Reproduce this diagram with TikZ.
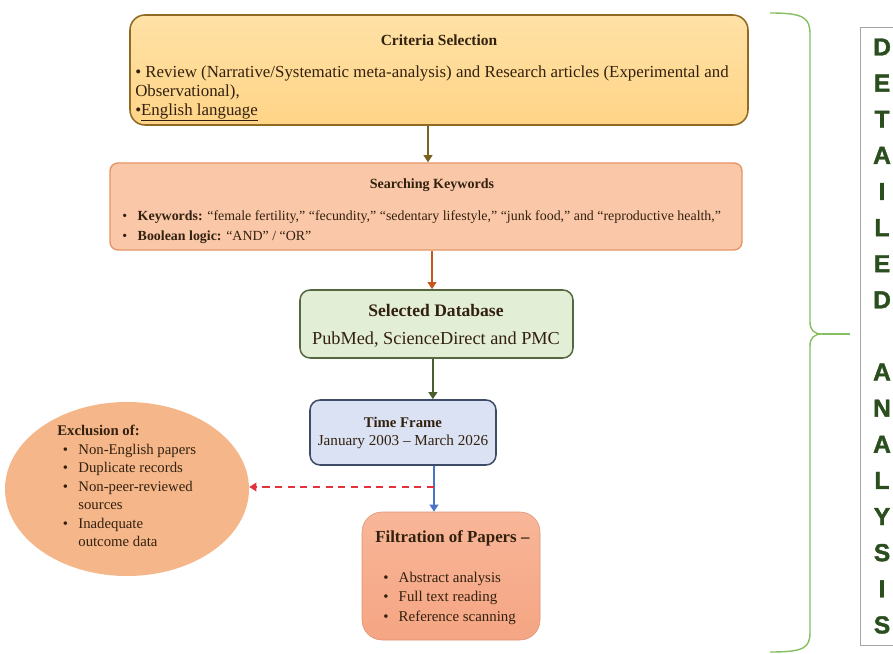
\documentclass[tikz,border=0pt]{standalone}
\usepackage{fontspec}
\setmainfont{Liberation Serif}
\newfontfamily\letterfont[FakeBold=1.6]{Liberation Sans}
\usetikzlibrary{positioning,calc,arrows.meta,shapes.geometric}

\definecolor{critfill}{HTML}{FFD487}
\definecolor{critlight}{HTML}{FFE2A6}
\definecolor{critedge}{HTML}{8E6A22}
\definecolor{keywfill}{HTML}{FAC8A8}
\definecolor{keywedge}{HTML}{E59566}
\definecolor{dbfill}{HTML}{E3EED7}
\definecolor{dbedge}{HTML}{56683F}
\definecolor{tffill}{HTML}{DAE2F4}
\definecolor{tfedge}{HTML}{3E4C68}
\definecolor{filtfill}{HTML}{F5A583}
\definecolor{filtlight}{HTML}{F8B698}
\definecolor{exclfill}{HTML}{F5B68A}
\definecolor{txtdark}{HTML}{33210F}
\definecolor{arrA}{HTML}{7A6322}
\definecolor{arrB}{HTML}{C9571C}
\definecolor{arrC}{HTML}{4C5E2C}
\definecolor{arrD}{HTML}{4A74C6}
\definecolor{arrX}{HTML}{E2323C}
\definecolor{bracegreen}{HTML}{86BE62}
\definecolor{lettergreen}{HTML}{2A4E1E}

\newcommand{\itm}{\makebox[11pt][l]{\textbullet}}

\begin{document}
\begin{tikzpicture}[
    box/.style={draw, line width=1.1pt, rounded corners=0.25cm},
    ttl/.style={font=\fontsize{10}{12}\selectfont\bfseries, text=txtdark, inner sep=0pt},
    txt/.style={font=\fontsize{10.5}{13.2}\selectfont, text=txtdark, align=left, anchor=west, inner sep=0pt},
    arr/.style={line width=1.3pt, -{Triangle[length=1.8mm,width=2.2mm]}},
    letter/.style={font=\letterfont\bfseries\fontsize{17.5}{17.5}\selectfont, text=lettergreen, inner sep=0pt}
]
\clip (0,0) rectangle (22.325,-16.35);

% Criteria selection
\node[box, draw=critedge, top color=critlight, bottom color=critfill, rounded corners=0.375cm,
      minimum width=15.45cm, minimum height=2.75cm] (crit) at (10.975,-1.75) {};
\node[ttl, font=\fontsize{11}{13}\selectfont\bfseries] (critT) at (10.975,-1.0) {Criteria Selection};
\node[txt, font=\fontsize{12}{13.4}\selectfont] (critB) at (3.375,-2.34) {\textbullet\ Review (Narrative/Systematic meta-analysis) and Research articles (Experimental and\\
  Observational),\\
  \textbullet\underline{English language}};

% Searching keywords
\node[box, draw=keywedge, fill=keywfill, rounded corners=0.2cm, line width=1pt,
      minimum width=15.8cm, minimum height=2.175cm] (keyw) at (10.65,-5.1625) {};
\node[ttl] (keywT) at (10.8,-4.625) {Searching Keywords};
\node[txt, font=\fontsize{9.9}{14}\selectfont] (keywB) at (3.05,-5.67) {\itm\textbf{Keywords:} “female fertility,” “fecundity,” “sedentary lifestyle,” “junk food,” and “reproductive health,”\\
  \itm\textbf{Boolean logic:} “AND” / “OR”};

% Selected database
\node[box, draw=dbedge, fill=dbfill, minimum width=6.825cm, minimum height=1.7cm] (db) at (10.9125,-8.1) {};
\node[ttl, font=\fontsize{12.5}{15}\selectfont\bfseries] (dbT) at (10.9,-7.75) {Selected Database};
\node[ttl, font=\fontsize{13}{15}\selectfont] (dbB) at (10.9,-8.5) {PubMed, ScienceDirect and PMC};

% Time frame
\node[box, draw=tfedge, fill=tffill, minimum width=4.65cm, minimum height=1.625cm] (tf) at (10.075,-10.8125) {};
\node[ttl, font=\fontsize{10.5}{13}\selectfont\bfseries] (tfT) at (10.075,-10.55) {Time Frame};
\node[ttl, font=\fontsize{10.8}{13}\selectfont] (tfB) at (10.075,-11.05) {January 2003 – March 2026};

% Filtration of papers
\node[draw=filtfill!90!black, line width=0.4pt, top color=filtlight, bottom color=filtfill, rounded corners=0.5cm,
      minimum width=4.45cm, minimum height=3.2cm] (filt) at (11.275,-14.4) {};
\node[ttl, font=\fontsize{12}{14}\selectfont\bfseries, anchor=west] (filtT) at (9.375,-13.45) {Filtration of Papers –};
\node[txt, font=\fontsize{10.6}{13.8}\selectfont] (filtB) at (9.575,-14.96) {\itm Abstract analysis\\ \itm Full text reading\\ \itm Reference scanning};

% Exclusion
\node[ellipse, fill=exclfill, minimum width=6.1cm, minimum height=4.35cm] (excl) at (3.175,-12.225) {};
\node[txt] (exclB) at (1.425,-12.15) {\textbf{Exclusion of:}\\
  \hspace*{4pt}\itm Non-English papers\\
  \hspace*{4pt}\itm Duplicate records\\
  \hspace*{4pt}\itm Non-peer-reviewed\\
  \hspace*{15pt}sources\\
  \hspace*{4pt}\itm Inadequate\\
  \hspace*{15pt}outcome data};

% Arrows down the flow
\draw[arr, arrA] ([xshift=-2.75mm]crit.south) -- ([xshift=-2.75mm]crit.south |- keyw.north);
\draw[arr, arrB] ([xshift=1.5mm]keyw.south) -- ([xshift=1.5mm]keyw.south |- db.north);
\draw[arr, arrC] ([xshift=-0.9mm]db.south) -- ([xshift=-0.9mm]db.south |- tf.north);
\coordinate (fork) at (10.85,-12.175);
\draw[arr, arrD] (tf.south -| fork) -- (filt.north -| fork);
\draw[arr, arrX, dashed, line width=1pt, dash pattern=on 5pt off 4pt] (fork) -- (excl.east |- fork);

% Brace
\draw[bracegreen, line width=1pt]
  (19.25,-0.325) .. controls (20.125,-0.325) and (20.25,-0.45) .. (20.25,-0.875)
  -- (20.25,-8.05) .. controls (20.25,-8.25) and (20.35,-8.35) .. (20.55,-8.35)
  .. controls (20.35,-8.35) and (20.25,-8.45) .. (20.25,-8.65)
  -- (20.25,-15.8) .. controls (20.25,-16.2) and (20.1,-16.3) .. (19.25,-16.3);
\draw[bracegreen, line width=1pt] (20.55,-8.35) -- (21.25,-8.35);

% Side label
\draw[gray!70, line width=0.6pt] (21.5,-0.675) rectangle (22.6,-16.125);
\foreach \ch [count=\i from 0] in {D,E,T,A,I,L,E,D,{},A,N,A,L,Y,S,I,S} {
    \node[letter] (lt\i) at (22.05,-1.175-\i*0.903) {\ch};
}

\end{tikzpicture}
\end{document}
